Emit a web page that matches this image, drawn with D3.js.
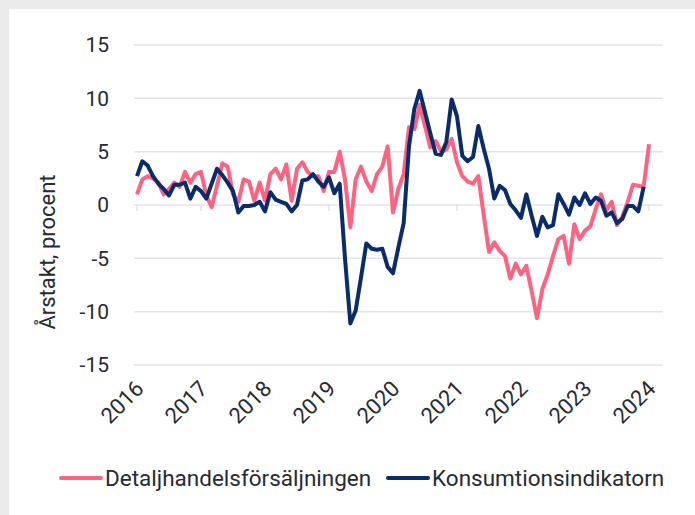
<!DOCTYPE html>
<html>
<head>
<meta charset="utf-8">
<script src="https://cdn.jsdelivr.net/npm/d3@7"></script>
<style>
  body { margin: 0; background: #ecebec; }
  svg { display: block; }
  text { font-family: Roboto, "Noto Sans", sans-serif; fill: #262a35; }
</style>
</head>
<body>
<svg id="chart" width="695" height="515"></svg>
<script>
// monthly data, Jan 2016 - Jan 2024
const months = d3.timeMonths(new Date(2016, 0, 1), new Date(2024, 1, 1)).map(d3.timeFormat('%Y-%m'));
const years = ['2016', '2017', '2018', '2019', '2020', '2021', '2022', '2023', '2024'];
const yTicks = [-15, -10, -5, 0, 5, 10, 15];

// Detaljhandelsförsäljningen
const retail = [
  1.0, 2.4, 2.7, 2.5, 2.1, 1.0, 1.5, 2.1, 1.7, 3.1, 2.1, 2.9,
  3.1, 0.9, -0.2, 1.8, 3.9, 3.6, 1.0, 0.3, 2.4, 2.2, 0.4, 2.1,
  0.4, 2.9, 3.4, 2.4, 3.8, 0.4, 3.4, 4.0, 3.1, 2.7, 2.7, 1.3,
  3.1, 3.1, 5.0, 2.4, -2.1, 2.4, 3.6, 2.2, 1.3, 2.9, 3.6, 5.5,
  -0.7, 1.5, 2.9, 7.3, 7.1, 9.4, 7.4, 5.4, 6.0, 5.0, 5.2, 6.2,
  4.0, 2.7, 2.2, 2.0, 2.7, -0.9, -4.4, -3.5, -4.3, -4.8, -6.9, -5.5,
  -6.5, -5.7, -8.1, -10.6, -7.9, -6.5, -4.8, -3.2, -2.9, -5.5, -1.8, -3.2,
  -2.4, -2.0, -0.4, 1.0, -0.5, 0.3, -1.9, -1.1, 0.3, 1.9, 1.8, 1.7,
  5.7
];

// Konsumtionsindikatorn
const consumption = [
  2.7, 4.1, 3.7, 2.7, 2.0, 1.5, 0.9, 1.9, 1.9, 2.1, 0.6, 1.7,
  1.3, 0.6, 2.0, 3.4, 2.8, 2.1, 1.3, -0.7, -0.1, -0.1, 0.0, 0.3,
  -0.6, 1.2, 0.5, 0.3, 0.1, -0.6, 0.0, 2.3, 2.4, 2.9, 2.2, 1.7,
  2.6, 1.1, 2.0, -5.0, -11.1, -9.9, -6.8, -3.6, -4.1, -4.2, -4.1, -5.8,
  -6.4, -4.0, -1.7, 5.5, 9.0, 10.7, 8.7, 6.7, 4.8, 4.7, 5.9, 9.9,
  8.3, 4.6, 4.1, 4.5, 7.4, 5.3, 3.4, 0.6, 1.8, 1.4, 0.1, -0.5,
  -1.2, 1.0, -1.0, -2.9, -1.1, -2.1, -1.9, 1.0, 0.1, -0.9, 0.7, 0.0,
  1.1, 0.1, 0.7, 0.4, -1.0, -0.7, -1.7, -1.3, -0.1, -0.1, -0.6, 1.7
];

const series = [
  { name: 'Detaljhandelsförsäljningen', values: retail, color: '#ff6382' },
  { name: 'Konsumtionsindikatorn', values: consumption, color: '#0b2c6b' }
];

const svg = d3.select('#chart');
svg.append('rect').attr('x', 9).attr('y', 9).attr('width', 686).attr('height', 506).attr('fill', '#fff');

const x = d3.scalePoint().domain(months).range([137, 649]);
const y = d3.scaleLinear().domain([-15, 15]).range([365, 45]);

// gridlines
svg.append('g')
  .selectAll('line')
  .data(yTicks)
  .join('line')
  .attr('x1', 134).attr('x2', 663)
  .attr('y1', d => y(d)).attr('y2', d => y(d))
  .attr('stroke', '#e3e3ea')
  .attr('stroke-width', 1.5);

// y tick labels
svg.append('g')
  .selectAll('text')
  .data(yTicks)
  .join('text')
  .attr('x', 109)
  .attr('y', d => y(d))
  .attr('dy', '0.35em')
  .attr('text-anchor', 'end')
  .style('font-size', '21px')
  .text(d => d);

// y axis title
svg.append('text')
  .attr('transform', 'translate(55,252) rotate(-90)')
  .attr('text-anchor', 'middle')
  .style('font-size', '22px')
  .text('Årstakt, procent');

// x ticks on the zero line
const yearMonths = years.map(yr => yr + '-01');
svg.append('g')
  .selectAll('line')
  .data(yearMonths)
  .join('line')
  .attr('x1', d => x(d)).attr('x2', d => x(d))
  .attr('y1', y(0)).attr('y2', y(0) + 6)
  .attr('stroke', '#e3e3ea')
  .attr('stroke-width', 1.5);

// x labels
svg.append('g')
  .selectAll('text')
  .data(years)
  .join('text')
  .attr('transform', d => `translate(${x(d + '-01') + 8},${390}) rotate(-45)`)
  .attr('text-anchor', 'end')
  .style('font-size', '22px')
  .text(d => d);

const line = d3.line()
  .x((d, i) => x(months[i]))
  .y(d => y(d));

svg.append('g')
  .selectAll('path')
  .data(series)
  .join('path')
  .attr('d', d => line(d.values))
  .attr('fill', 'none')
  .attr('stroke', d => d.color)
  .attr('stroke-width', 4)
  .attr('stroke-linejoin', 'round');

// legend
const legend = svg.append('g');
const legendPos = [{ x: 61, tx: 105 }, { x: 388, tx: 432 }];
series.forEach((s, i) => {
  const g = legend.append('g');
  g.append('line')
    .attr('x1', legendPos[i].x).attr('x2', legendPos[i].x + 40)
    .attr('y1', 478).attr('y2', 478)
    .attr('stroke', s.color)
    .attr('stroke-width', 4)
    .attr('stroke-linecap', 'round');
  g.append('text')
    .attr('x', legendPos[i].tx)
    .attr('y', 478)
    .attr('dy', '0.35em')
    .style('font-size', '22.5px')
    .text(s.name);
});
</script>
</body>
</html>
